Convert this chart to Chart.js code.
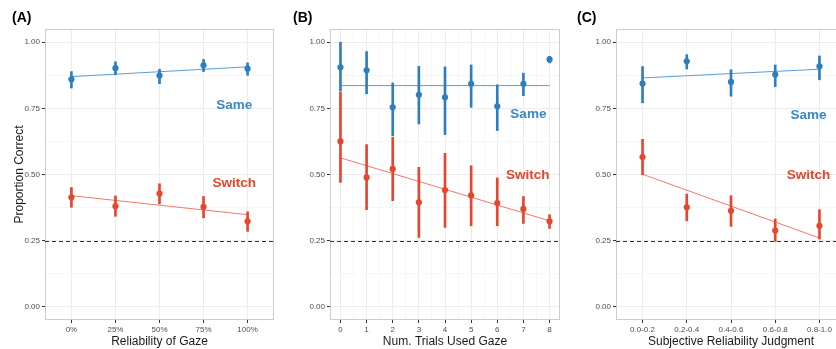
<!DOCTYPE html>
<html>
<head>
<meta charset="utf-8">
<script src="https://cdn.jsdelivr.net/npm/chart.js@4.4.1/dist/chart.umd.min.js"></script>
<style>
  html, body { margin: 0; padding: 0; background: #fff; overflow: hidden; }
  body { width: 836px; height: 349px; position: relative; }
  canvas { position: absolute; top: 0; }
</style>
</head>
<body>
<canvas id="chartA" width="290" height="349" style="left:0px"></canvas>
<canvas id="chartB" width="285" height="349" style="left:281px"></canvas>
<canvas id="chartC" width="287" height="349" style="left:565px"></canvas>
<script>
// (A) reliability of gaze
const gazeLevels = ['0%', '25%', '50%', '75%', '100%'];
const sameGaze = [0.860, 0.902, 0.874, 0.913, 0.900];
const sameGazeLo = [0.827, 0.877, 0.843, 0.889, 0.875];
const sameGazeHi = [0.889, 0.926, 0.898, 0.935, 0.922];
const sameGazeFit = [0.870, 0.907];
const switchGaze = [0.414, 0.380, 0.428, 0.378, 0.323];
const switchGazeLo = [0.376, 0.342, 0.389, 0.336, 0.285];
const switchGazeHi = [0.451, 0.419, 0.465, 0.417, 0.359];
const switchGazeFit = [0.420, 0.348];

// (B) number of trials where gaze was used
const trialCounts = ['0', '1', '2', '3', '4', '5', '6', '7', '8'];
const sameTrials = [0.905, 0.894, 0.754, 0.801, 0.792, 0.843, 0.758, 0.843, 0.935];
const sameTrialsLo = [0.815, 0.805, 0.647, 0.691, 0.651, 0.754, 0.666, 0.798, 0.922];
const sameTrialsHi = [1.000, 0.965, 0.846, 0.909, 0.907, 0.914, 0.839, 0.883, 0.947];
const sameTrialsFit = [0.836, 0.836];
const switchTrials = [0.625, 0.489, 0.521, 0.395, 0.441, 0.421, 0.392, 0.370, 0.323];
const switchTrialsLo = [0.470, 0.367, 0.401, 0.262, 0.300, 0.306, 0.306, 0.315, 0.296];
const switchTrialsHi = [0.811, 0.613, 0.641, 0.527, 0.580, 0.533, 0.487, 0.417, 0.348];
const switchTrialsFit = [0.563, 0.325];

// (C) subjective reliability judgment
const judgmentBins = ['0.0-0.2', '0.2-0.4', '0.4-0.6', '0.6-0.8', '0.8-1.0'];
const sameJudge = [0.844, 0.928, 0.850, 0.878, 0.909];
const sameJudgeLo = [0.771, 0.899, 0.796, 0.832, 0.858];
const sameJudgeHi = [0.908, 0.953, 0.896, 0.914, 0.948];
const sameJudgeFit = [0.865, 0.898];
const switchJudge = [0.566, 0.376, 0.363, 0.288, 0.306];
const switchJudgeLo = [0.499, 0.325, 0.304, 0.247, 0.256];
const switchJudgeHi = [0.633, 0.426, 0.420, 0.332, 0.367];
const switchJudgeFit = [0.501, 0.260];

const yTickValues = [0, 0.25, 0.5, 0.75, 1];
const chanceLevel = 0.25;

const BLUE = '#2e7ebf';
const BLUE_FIT = '#5c9cd2';
const BLUE_TEXT = '#3b88c8';
const RED = '#e6452e';
const RED_FIT = '#f2786a';
const FONT = "'Liberation Sans', Arial, Helvetica, sans-serif";

Chart.defaults.font.family = FONT;

// minor grid positions sit halfway between major breaks
const midpoints = arr => arr.slice(1).map((v, i) => (v + arr[i]) / 2);
const yMinor = midpoints(yTickValues);

// panel border, chance line and the Same / Switch annotations
const panelDecor = {
  id: 'panelDecor',
  beforeDatasetsDraw(chart) {
    const { ctx, chartArea: a } = chart;
    ctx.save();
    ctx.strokeStyle = '#cccccc';
    ctx.lineWidth = 1;
    ctx.strokeRect(a.left + 0.5, a.top + 0.5, a.right - a.left - 1, a.bottom - a.top - 1);
    ctx.restore();
  },
  afterDatasetsDraw(chart, args, opts) {
    const { ctx, chartArea: a, scales } = chart;
    const yc = scales.y.getPixelForValue(chanceLevel);
    ctx.save();
    ctx.strokeStyle = '#333333';
    ctx.lineWidth = 1;
    ctx.setLineDash([4, 3]);
    ctx.beginPath();
    ctx.moveTo(a.left, Math.round(yc) + 0.5);
    ctx.lineTo(a.right, Math.round(yc) + 0.5);
    ctx.stroke();
    ctx.setLineDash([]);
    ctx.font = `bold 13.5px ${FONT}`;
    ctx.textAlign = 'center';
    ctx.textBaseline = 'middle';
    opts.labels.forEach(l => {
      ctx.fillStyle = l.color;
      ctx.fillText(l.text, scales.x.getPixelForValue(l.x), scales.y.getPixelForValue(l.y));
    });
    ctx.restore();
  }
};

function makePanel(p) {
  const n = p.categories.length;
  const idx = p.categories.map((c, i) => i);
  const xMinor = p.minorX ? midpoints(idx) : [];
  const groups = [
    { s: p.same, color: BLUE, fit: BLUE_FIT },
    { s: p.sw, color: RED, fit: RED_FIT }
  ];
  const datasets = [];
  groups.forEach(g => {
    datasets.push({
      type: 'scatter',
      data: idx.map(i => ({ x: i, y: g.s.mean[i] })),
      backgroundColor: g.color,
      borderWidth: 0,
      pointRadius: 3.1,
      order: 0
    });
    datasets.push({
      type: 'bar',
      data: idx.map(i => ({ x: i, y: [g.s.lo[i], g.s.hi[i]] })),
      backgroundColor: g.color,
      borderWidth: 0,
      barThickness: 2,
      grouped: false,
      order: 1
    });
    datasets.push({
      type: 'line',
      data: [{ x: 0, y: g.s.fit[0] }, { x: n - 1, y: g.s.fit[1] }],
      borderColor: g.fit,
      borderWidth: 1,
      pointRadius: 0,
      fill: false,
      order: 2
    });
  });

  return new Chart(document.getElementById(p.id), {
    type: 'scatter',
    data: { datasets },
    plugins: [panelDecor],
    options: {
      responsive: false,
      animation: false,
      events: [],
      layout: { padding: { left: 12, right: p.padRight, top: 0, bottom: 0 } },
      plugins: {
        legend: { display: false },
        tooltip: { enabled: false },
        title: {
          display: true,
          text: p.letter,
          align: 'start',
          color: '#000',
          font: { size: 14, weight: 'bold' },
          padding: { top: 10, bottom: 2.2 }
        },
        panelDecor: { labels: p.labels }
      },
      scales: {
        x: {
          type: 'linear',
          min: p.xMin,
          max: p.xMax,
          offset: false,
          afterBuildTicks: s => {
            s.ticks = idx.concat(xMinor).sort((a, b) => a - b).map(v => ({ value: v }));
          },
          afterFit: s => { s.height = 29; },
          ticks: {
            autoSkip: false,
            maxRotation: 0,
            padding: 1.5,
            color: '#4d4d4d',
            font: { size: 8 },
            callback: v => (Number.isInteger(v) ? p.categories[v] : '')
          },
          grid: {
            offset: false,
            tickLength: 3,
            color: c => (c.tick && !Number.isInteger(c.tick.value) ? '#f6f6f6' : '#ececec'),
            tickColor: c => (c.tick && !Number.isInteger(c.tick.value) ? 'rgba(0,0,0,0)' : '#333333')
          },
          border: { display: false },
          title: {
            display: true,
            text: p.xTitle,
            color: '#1a1a1a',
            font: { size: 12 },
            padding: { top: 0, bottom: 0 }
          }
        },
        y: {
          type: 'linear',
          min: -0.05,
          max: 1.05,
          afterBuildTicks: s => {
            s.ticks = yTickValues.concat(yMinor).sort((a, b) => a - b).map(v => ({ value: v }));
          },
          afterFit: s => { s.width = p.yWidth; },
          ticks: {
            padding: 2,
            color: '#4d4d4d',
            font: { size: 8 },
            callback: v => (yTickValues.includes(v) ? v.toFixed(2) : '')
          },
          grid: {
            tickLength: 3,
            color: c => (c.tick && !yTickValues.includes(c.tick.value) ? '#f6f6f6' : '#ececec'),
            tickColor: c => (c.tick && !yTickValues.includes(c.tick.value) ? 'rgba(0,0,0,0)' : '#333333')
          },
          border: { display: false },
          title: {
            display: p.yTitle,
            text: 'Proportion Correct',
            color: '#1a1a1a',
            font: { size: 12 },
            padding: { top: 0, bottom: 0 }
          }
        }
      }
    }
  });
}

makePanel({
  id: 'chartA', letter: '(A)', categories: gazeLevels,
  same: { mean: sameGaze, lo: sameGazeLo, hi: sameGazeHi, fit: sameGazeFit },
  sw: { mean: switchGaze, lo: switchGazeLo, hi: switchGazeHi, fit: switchGazeFit },
  xMin: -0.6, xMax: 4.6, minorX: false, yWidth: 33, yTitle: true, padRight: 16,
  xTitle: 'Reliability of Gaze',
  labels: [
    { text: 'Same', x: 3.70, y: 0.760, color: BLUE_TEXT },
    { text: 'Switch', x: 3.70, y: 0.465, color: RED }
  ]
});

makePanel({
  id: 'chartB', letter: '(B)', categories: trialCounts,
  same: { mean: sameTrials, lo: sameTrialsLo, hi: sameTrialsHi, fit: sameTrialsFit },
  sw: { mean: switchTrials, lo: switchTrialsLo, hi: switchTrialsHi, fit: switchTrialsFit },
  xMin: -0.4, xMax: 8.4, minorX: true, yWidth: 37, yTitle: false, padRight: 6,
  xTitle: 'Num. Trials Used Gaze',
  labels: [
    { text: 'Same', x: 7.19, y: 0.726, color: BLUE_TEXT },
    { text: 'Switch', x: 7.17, y: 0.496, color: RED }
  ]
});

makePanel({
  id: 'chartC', letter: '(C)', categories: judgmentBins,
  same: { mean: sameJudge, lo: sameJudgeLo, hi: sameJudgeHi, fit: sameJudgeFit },
  sw: { mean: switchJudge, lo: switchJudgeLo, hi: switchJudgeHi, fit: switchJudgeFit },
  xMin: -0.6, xMax: 4.6, minorX: false, yWidth: 39, yTitle: false, padRight: 6,
  xTitle: 'Subjective Reliability Judgment',
  labels: [
    { text: 'Same', x: 3.75, y: 0.723, color: BLUE_TEXT },
    { text: 'Switch', x: 3.75, y: 0.496, color: RED }
  ]
});
</script>
</body>
</html>
